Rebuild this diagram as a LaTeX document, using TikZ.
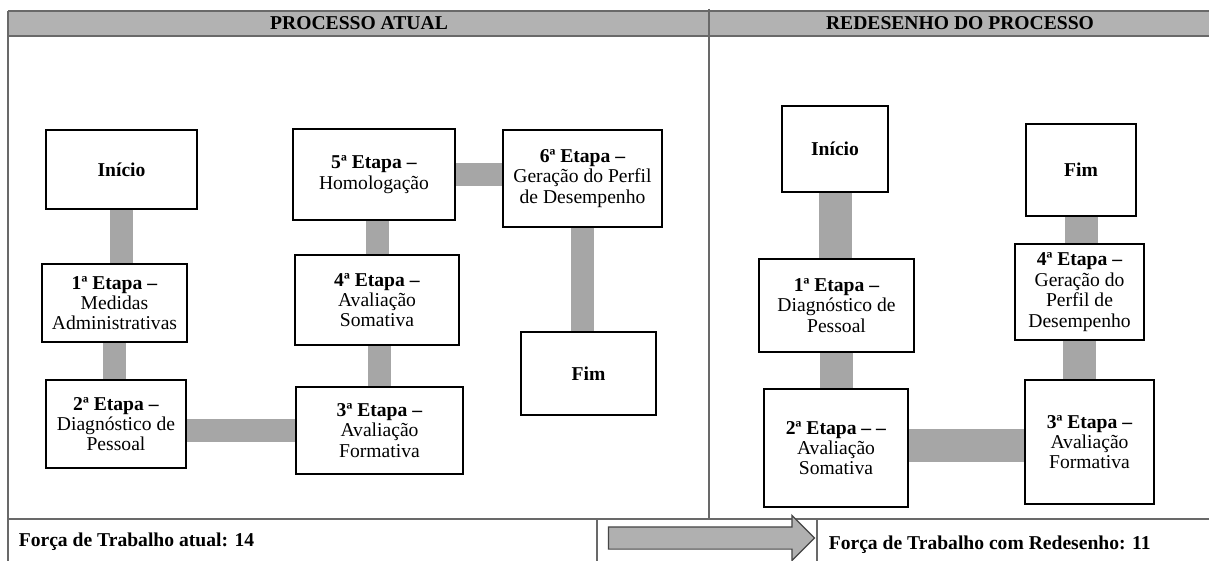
\documentclass[tikz,border=0pt]{standalone}
\usepackage{fontspec}
\setmainfont{Liberation Serif}
\usepackage{tikz}
\usetikzlibrary{shapes.arrows}
\newcommand\etp[1]{\textbf{#1ª Etapa –}}
\definecolor{cinzaTopo}{RGB}{178,178,178}
\definecolor{cinzaLiga}{RGB}{166,166,166}
\definecolor{cinzaBorda}{RGB}{105,105,105}

\begin{document}
\begin{tikzpicture}[x=0.5pt, y=-0.5pt, line width=.8pt,
  caixa/.style={draw=black, fill=white, align=center, inner sep=1.5pt,
    font=\fontsize{9.8}{10.2}\selectfont},
  ligA/.style={draw=cinzaLiga, line width=11.5pt},
  ligR/.style={draw=cinzaLiga, line width=16.5pt},
  titulo/.style={font=\fontsize{9.8}{10.2}\selectfont\bfseries, inner sep=0pt},
  rodape/.style={font=\fontsize{9.8}{10.2}\selectfont\bfseries, inner sep=0pt, anchor=west},
  moldura/.style={draw=cinzaBorda, line width=.7pt}]
\fill[white] (0,0) rectangle (1209,561); %%
\useasboundingbox (0,0) rectangle (1209,561); %%
% faixa de titulo
\fill[cinzaTopo] (8,11) rectangle (1209,36); %%
\draw[moldura, line width=1pt] (8,11) -- (1209,11); %%
\draw[moldura, line width=1pt] (8,36) -- (1209,36); %%
\node[titulo] (tA) at (359,23.5) {PROCESSO ATUAL}; %%
\node[titulo] (tR) at (960,23.5) {REDESENHO DO PROCESSO}; %%
% moldura
\draw[moldura] (8,11) -- (8,561); %%
\draw[moldura] (709,9) -- (709,519); %%
\draw[moldura] (8,519) -- (1209,519); %%
\draw[moldura] (597,519) -- (597,561); %%
\draw[moldura] (817,519) -- (817,561); %%
% processo atual
\node[caixa, minimum width=75.5pt, minimum height=39.5pt] (a0) at (121.5,169.5) {\textbf{Início}}; %%
\node[caixa, minimum width=72.5pt, minimum height=39pt] (a1) at (114.5,303) {\etp{1}\\Medidas\\Administrativas}; %%
\node[caixa, minimum width=70pt, minimum height=44pt] (a2) at (116,424) {\etp{2}\\Diagnóstico de\\Pessoal}; %%
\node[caixa, minimum width=83.5pt, minimum height=43.5pt] (a3) at (379.5,430.5) {\etp{3}\\Avaliação\\Formativa}; %%
\node[caixa, minimum width=82pt, minimum height=45pt] (a4) at (377,300) {\etp{4}\\Avaliação\\Somativa}; %%
\node[caixa, minimum width=81pt, minimum height=45.5pt] (a5) at (374,174.5) {\etp{5}\\Homologação}; %%
\node[caixa, minimum width=79.5pt, minimum height=48.5pt] (a6) at (582.5,178.5) {\etp{6}\\Geração do Perfil\\de Desempenho}; %%
\node[caixa, minimum width=67.5pt, minimum height=41.5pt] (af) at (588.5,373.5) {\textbf{Fim}}; %%
\draw[ligA] (a0.south) -- (a0.south |- a1.north); %%
\draw[ligA] (a1.south) -- (a1.south |- a2.north); %%
\draw[ligA] (a2.east |- a3.west) -- (a3.west); %%
\draw[ligA] (a3.north) -- (a3.north |- a4.south); %%
\draw[ligA] (a4.north) -- (a4.north |- a5.south); %%
\draw[ligA] (a5.east) -- (a5.east -| a6.west); %%
\draw[ligA] (a6.south) -- (a6.south |- af.north); %%
% redesenho
\node[caixa, minimum width=53pt, minimum height=43pt] (r0) at (835,149) {\textbf{Início}}; %%
\node[caixa, minimum width=77.5pt, minimum height=46.5pt] (r1) at (836.5,305.5) {\etp{1}\\Diagnóstico de\\Pessoal}; %%
\node[caixa, minimum width=72pt, minimum height=59pt] (r2) at (836,448) {\textbf{2ª Etapa – –}\\Avaliação\\Somativa}; %%
\node[caixa, minimum width=64.5pt, minimum height=62pt] (r3) at (1089.5,442) {\etp{3}\\Avaliação\\Formativa}; %%
\node[caixa, minimum width=64.5pt, minimum height=48pt] (r4) at (1079.5,292) {\etp{4}\\Geração do\\Perfil de\\Desempenho}; %%
\node[caixa, minimum width=55pt, minimum height=46pt] (rf) at (1081,170) {\textbf{Fim}}; %%
\draw[ligR] (r0.south) -- (r0.south |- r1.north); %%
\draw[ligR] (r1.south) -- (r1.south |- r2.north); %%
\draw[ligR] (r2.east |- 0,445) -- (r3.west |- 0,445); %%
\draw[ligR] (r4.south) -- (r4.south |- r3.north); %%
\draw[ligR] (rf.south) -- (rf.south |- r4.north); %%
% rodape
\node[rodape] (fA) at (18,542) {Força de Trabalho atual: 14}; %%
\node[single arrow, fill=gray!62, draw=gray!55!black, line width=.6pt, inner xsep=0pt, inner ysep=5.25pt,
  minimum height=103pt, single arrow head extend=5.75pt,
  single arrow head indent=0pt] (seta) at (706,538) {}; %%
\node[rodape] (fR) at (828,545) {Força de Trabalho com Redesenho: 11}; %%
\end{tikzpicture}
\end{document}
